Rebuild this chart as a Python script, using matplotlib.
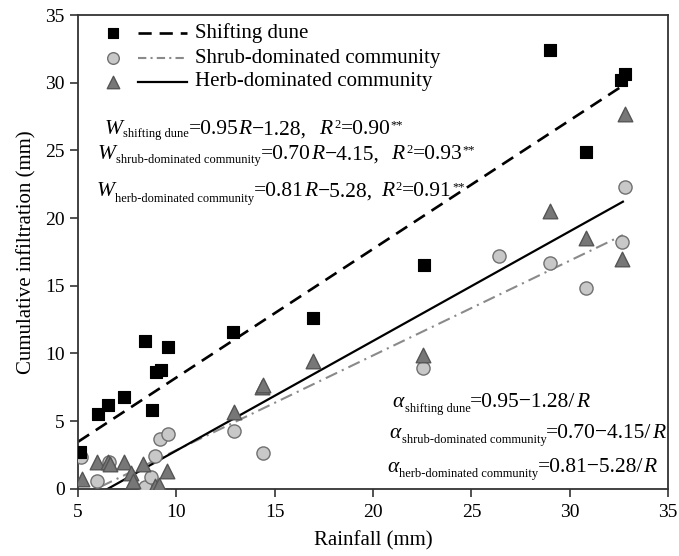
import matplotlib
matplotlib.use("Agg")
import matplotlib.pyplot as plt
import numpy as np
from matplotlib.transforms import IdentityTransform

plt.rcParams['font.family'] = ['Liberation Serif', 'DejaVu Serif']

# rainfall (mm) vs cumulative infiltration (mm)
dune_x = [5.1, 6.0, 6.5, 7.35, 8.4, 8.75, 8.95, 9.2, 9.55, 12.9, 16.95, 22.6, 29.0, 30.8, 32.6, 32.8]
dune_y = [2.7, 5.55, 6.2, 6.75, 10.95, 5.8, 8.65, 8.8, 10.5, 11.55, 12.65, 16.55, 32.45, 24.9, 30.2, 30.65]

shrub_x = [5.15, 5.95, 6.55, 8.4, 8.7, 8.9, 9.15, 9.55, 12.95, 14.4, 22.55, 26.4, 29.0, 30.8, 32.65, 32.8]
shrub_y = [2.35, 0.6, 2.0, 0.15, 0.9, 2.4, 3.65, 4.05, 4.3, 2.65, 8.9, 17.2, 16.7, 14.8, 18.2, 22.3]

herb_x = [5.2, 5.95, 6.5, 6.6, 7.35, 7.7, 7.8, 8.3, 8.9, 9.1, 9.5, 12.95, 14.35, 14.4, 16.95, 22.55, 29.0, 30.8, 32.65, 32.8]
herb_y = [0.75, 1.95, 1.95, 1.8, 2.0, 1.15, 0.55, 1.8, 0.2, 0.3, 1.3, 5.7, 7.55, 7.7, 9.4, 9.9, 20.5, 18.5, 17.0, 27.7]

# fitted lines W = a*R + b
slopes = [0.95, 0.70, 0.81]
intercepts = [-1.28, -4.15, -5.28]
r2 = ['0.90', '0.93', '0.91']
names = ['shifting dune', 'shrub-dominated community', 'herb-dominated community']
labels = ['Shifting dune', 'Shrub-dominated community', 'Herb-dominated community']
fit_xmax = 32.7

fig = plt.figure(figsize=(6.79, 5.56), dpi=100)
ax = fig.add_axes([0.115, 0.121, 0.869, 0.852])

xs = np.linspace(5.0, fit_xmax, 200)
l_dune, = ax.plot(xs, slopes[0] * xs + intercepts[0], color='black', lw=1.9,
                  dashes=(5, 3), zorder=2)
l_shrub, = ax.plot(xs, slopes[1] * xs + intercepts[1], color='#8a8a8a', lw=1.5,
                   dashes=(6, 2.5, 1, 2.5), zorder=2)
l_herb, = ax.plot(xs, slopes[2] * xs + intercepts[2], color='black', lw=1.6, zorder=2)

sq_style = dict(s=80, marker='s', facecolor='black', edgecolor='black', linewidth=0.8)
ci_style = dict(s=90, marker='o', facecolor='#c8c8c8', edgecolor='#707070', linewidth=1.0)
tr_style = dict(s=110, marker='^', facecolor='#777777', edgecolor='#555555', linewidth=1.0)

ax.scatter(shrub_x, shrub_y, zorder=3, **ci_style)
ax.scatter(herb_x, herb_y, zorder=4, **tr_style)
ax.scatter(dune_x, dune_y, zorder=5, **sq_style)

ax.set_xlim(5, 35)
ax.set_ylim(0, 35)
ax.set_xticks(range(5, 36, 5))
ax.set_yticks(range(0, 36, 5))
ax.tick_params(direction='out', length=6, width=1.2, labelsize=14, color='#333333',
               top=False, right=False)
ax.tick_params(axis='x', pad=5)
for sp in ax.spines.values():
    sp.set_linewidth(1.3)
    sp.set_color('#333333')

ax.set_xlabel('Rainfall (mm)', fontsize=15, labelpad=7)
ax.set_ylabel('Cumulative infiltration (mm)', fontsize=15, labelpad=6)

# legend: marker, line sample, label
leg_y = [0.962, 0.909, 0.859]
leg_lines = [dict(color='black', lw=1.9, dashes=(5, 3)),
             dict(color='#8a8a8a', lw=1.5, dashes=(4, 2, 1, 2)),
             dict(color='black', lw=1.6)]
leg_marks = [dict(sq_style, s=60), dict(ci_style, s=70), dict(tr_style, s=80)]
for i in range(3):
    ax.scatter([0.059], [leg_y[i]], transform=ax.transAxes, zorder=6, **leg_marks[i])
    ax.plot([0.102, 0.185], [leg_y[i], leg_y[i]], transform=ax.transAxes, **leg_lines[i])
    ax.text(0.198, leg_y[i], labels[i], transform=ax.transAxes, fontsize=15,
            ha='left', va='center')

fig.canvas.draw()
renderer = fig.canvas.get_renderer()


def rich_text(x, y, pieces):
    # pieces: (text, fontsize, italic, dy, dx in px); laid out left to right from (x, y)
    px, py = ax.transData.transform((x, y))
    for s, size, italic, dy, dx in pieces:
        if s.startswith(' '):
            px += 4 * len(s)
            continue
        t = fig.text(px + dx, py + dy, s, transform=IdentityTransform(), fontsize=size,
                     style='italic' if italic else 'normal', ha='left', va='baseline')
        px = t.get_window_extent(renderer).x1 + (0.5 if italic else 0.0)


big, small = 15.5, 9
w_pos = [(6.35, 26.2), (6.0, 24.35), (5.95, 21.6)]
w_sub_dy = [-3, -4, -6]
gaps = ['   ', '   ', '  ']
for i in range(3):
    rich_text(w_pos[i][0], w_pos[i][1], [
        ('W', big, True, 0, 0),
        (names[i], small, False, w_sub_dy[i], 0),
        ('=%.2f' % slopes[i], big, False, 0, 0),
        ('R', big, True, 0, 0),
        ('\u2212%.2f,' % -intercepts[i], big, False, 0, 0),
        (gaps[i], big, False, 0, 0),
        ('R', big, True, 0, 0),
        ('2', small, False, 6, 1.5),
        ('=' + r2[i], big, False, 0, 0),
        ('**', small, False, 6, 0.5),
    ])

a_pos = [(21.0, 6.05), (20.85, 3.75), (20.7, 1.25)]
for i in range(3):
    rich_text(a_pos[i][0], a_pos[i][1], [
        ('\u03b1', big, True, 0, 0),
        (names[i], small, False, -5, 0),
        ('=%.2f\u2212%.2f/' % (slopes[i], -intercepts[i]), big, False, 0, 0),
        ('R', big, True, 0, 0),
    ])

fig.savefig('out.png', dpi=100)
